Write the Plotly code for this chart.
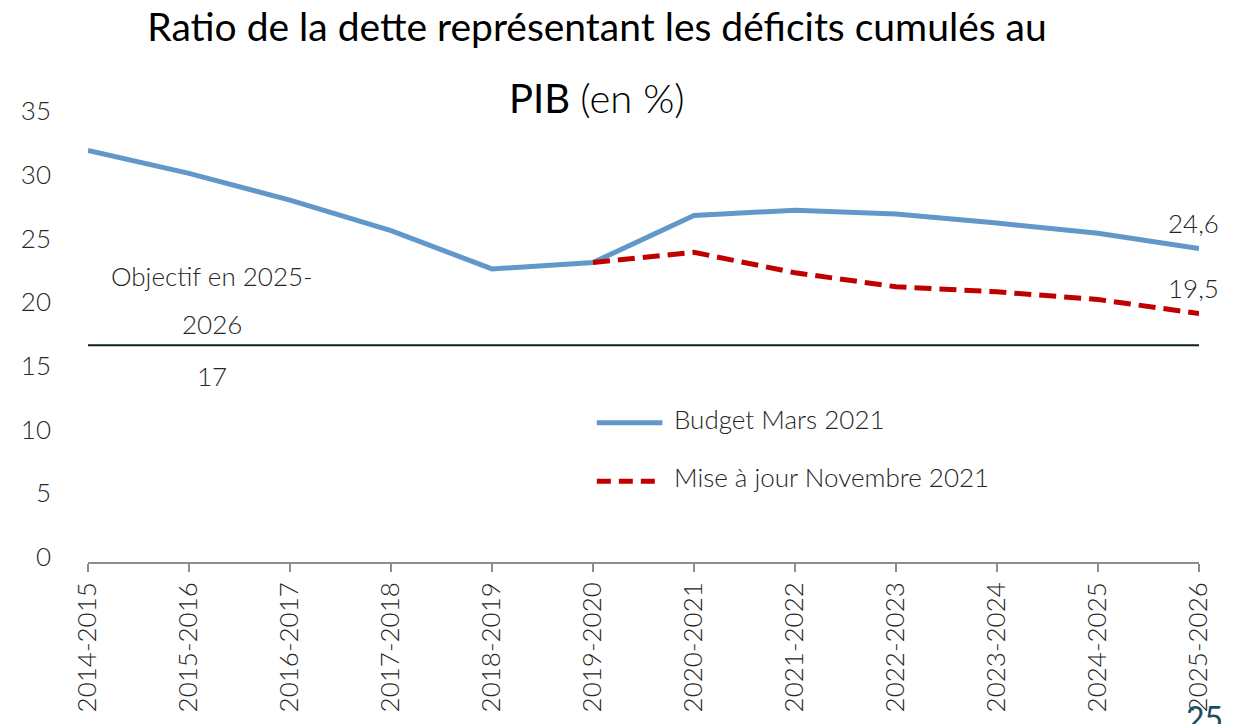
import plotly.graph_objects as go

categories = ["2014-2015", "2015-2016", "2016-2017", "2017-2018", "2018-2019", "2019-2020",
              "2020-2021", "2021-2022", "2022-2023", "2023-2024", "2024-2025", "2025-2026"]
budget_mars_2021 = [32.3, 30.5, 28.4, 26.0, 23.0, 23.5, 27.2, 27.6, 27.3, 26.6, 25.8, 24.6]
maj_nov_2021 = [None, None, None, None, None, 23.5, 24.3, 22.7, 21.6, 21.2, 20.6, 19.5]
objectif = 17
end_labels = ["24,6", "19,5"]
y_ticks = [0, 5, 10, 15, 20, 25, 30, 35]

FONT = "Lato"
BLUE = "#6198C9"
RED = "#C00000"
TXT = "#262626"
FS = 26

fig = go.Figure()
fig.add_trace(go.Scatter(x=categories, y=[objectif] * len(categories), mode="lines",
                         line=dict(color="#0D1F26", width=2), showlegend=False, hoverinfo="skip"))
fig.add_trace(go.Scatter(x=categories, y=budget_mars_2021, mode="lines", name="Budget Mars 2021",
                         line=dict(color=BLUE, width=5), showlegend=False))
fig.add_trace(go.Scatter(x=categories, y=maj_nov_2021, mode="lines", name="Mise à jour Novembre 2021",
                         line=dict(color=RED, width=5, dash="17px,8px"), showlegend=False))

# end-value labels
for series, lab in zip([budget_mars_2021, maj_nov_2021], end_labels):
    fig.add_annotation(x=categories[-1], y=series[-1], text=lab, showarrow=False,
                       yshift=26, xshift=-6, font=dict(family=FONT, size=FS, color=TXT, weight=300))

# objective label
fig.add_annotation(x=1.23, y=objectif, text="Objectif en 2025-", showarrow=False, yshift=69,
                   font=dict(family=FONT, size=FS, color=TXT, weight=300))
fig.add_annotation(x=1.23, y=objectif, text="2026", showarrow=False, yshift=21,
                   font=dict(family=FONT, size=FS, color=TXT, weight=300))
fig.add_annotation(x=1.23, y=objectif, text=str(objectif), showarrow=False, yshift=-31,
                   font=dict(family=FONT, size=FS, color=TXT, weight=300))

# manual legend
fig.add_shape(type="line", xref="paper", yref="paper", x0=0.458, x1=0.517, y0=0.3125, y1=0.3125,
              line=dict(color=BLUE, width=5))
fig.add_shape(type="line", xref="paper", yref="paper", x0=0.458, x1=0.515, y0=0.181, y1=0.181,
              line=dict(color=RED, width=5, dash="14px,8px"))
fig.add_annotation(xref="paper", yref="paper", x=0.5255, y=0.321, xanchor="left", yanchor="middle",
                   text="Budget Mars 2021", showarrow=False,
                   font=dict(family=FONT, size=FS, color=TXT, weight=300))
fig.add_annotation(xref="paper", yref="paper", x=0.5255, y=0.19, xanchor="left", yanchor="middle",
                   text="Mise à jour Novembre 2021", showarrow=False,
                   font=dict(family=FONT, size=FS, color=TXT, weight=300))

# title second line
fig.add_annotation(xref="paper", yref="paper", x=0.458, y=1.04, xanchor="center", yanchor="middle",
                   text="PIB <span style='font-weight:300'>(en %)</span>", showarrow=False,
                   font=dict(family=FONT, size=40, color="#000000", weight=400))

# page number (partly cut off at the bottom edge, as in the source slide)
fig.add_annotation(xref="paper", yref="paper", x=1.0054, y=-0.30, xanchor="center", yanchor="top",
                   text="25", showarrow=False,
                   font=dict(family=FONT, size=32, color="#1A4D60", weight=400))

fig.update_layout(
    width=1236, height=716,
    margin=dict(l=80, r=45, t=108, b=160),
    paper_bgcolor="white", plot_bgcolor="white",
    title=dict(text="Ratio de la dette représentant les déficits cumulés au",
               x=589 / 1236, xanchor="center", y=1 - 19 / 716, yanchor="middle",
               font=dict(family=FONT, size=39, color="#000000", weight=400)),
    showlegend=False,
    xaxis=dict(type="category", range=[0, len(categories) - 1], showgrid=False, zeroline=False,
               showline=True, linecolor="#8C8C8C", linewidth=1.5,
               ticks="outside", ticklen=8, tickcolor="#8C8C8C", tickwidth=1.5,
               tickangle=-90, tickfont=dict(family=FONT, size=FS, color=TXT, weight=300)),
    yaxis=dict(range=[0, 35], tickvals=y_ticks, showgrid=False, zeroline=False, showline=False,
               ticks="", ticklabelstandoff=36, ticklabelshift=-5,
               tickfont=dict(family=FONT, size=FS, color=TXT, weight=300)),
)

fig.write_html("out.html")
